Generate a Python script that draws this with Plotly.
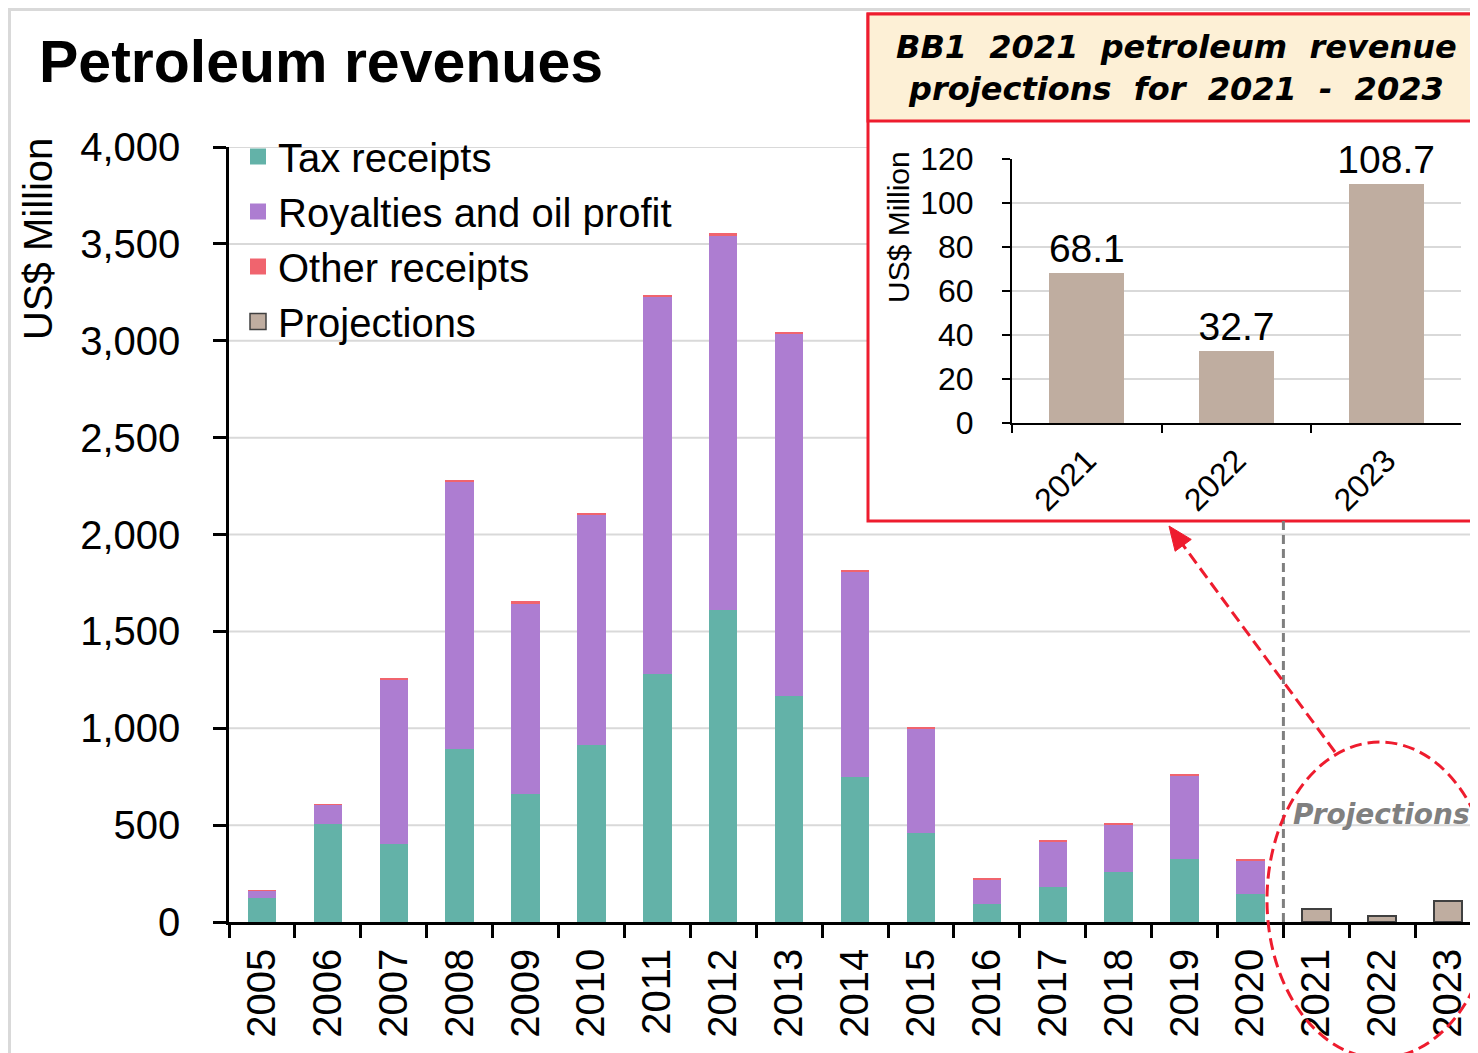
import plotly.graph_objects as go

# ---------------- data ----------------
years = ["2005", "2006", "2007", "2008", "2009", "2010", "2011", "2012", "2013",
         "2014", "2015", "2016", "2017", "2018", "2019", "2020"]
tax_receipts = [124, 504, 403, 891, 659, 912, 1281, 1610, 1166, 750, 459, 93, 180, 260, 327, 145]
royalties = [38, 100, 850, 1384, 983, 1193, 1949, 1933, 1870, 1060, 539, 127, 238, 244, 431, 170]
other_receipts = [2, 3, 3, 5, 15, 8, 8, 15, 8, 8, 5, 5, 5, 5, 1, 12]
proj_years = ["2021", "2022", "2023"]
projections = [68.1, 32.7, 108.7]
all_years = years + proj_years
main_ticks = [0, 500, 1000, 1500, 2000, 2500, 3000, 3500, 4000]
series_names = ["Tax receipts", "Royalties and oil profit", "Other receipts", "Projections"]

# ---------------- geometry helpers (screen pixel -> paper) ----------------
W, H = 1478, 1053
OFF = 8  # page body margin offsets the figure on screen
def px(x):
    return (x - OFF) / W
def py(y):
    return (H - (y - OFF)) / H

C_TAX = "#63b2a8"
C_ROY = "#ad7dd1"
C_OTH = "#f0646e"
C_PRJ = "#bfada0"
RED = "#ee1c2e"
FONT = "Liberation Sans, Arial, sans-serif"
colors = [C_TAX, C_ROY, C_OTH, C_PRJ]

fig = go.Figure()
fig.add_trace(go.Bar(x=years, y=tax_receipts, name=series_names[0], marker_color=C_TAX,
                     width=0.43, marker_line_width=0, showlegend=False))
fig.add_trace(go.Bar(x=years, y=royalties, name=series_names[1], marker_color=C_ROY,
                     width=0.43, marker_line_width=0, showlegend=False))
fig.add_trace(go.Bar(x=years, y=other_receipts, name=series_names[2], marker_color=C_OTH,
                     width=0.43, marker_line_width=0, showlegend=False))
fig.add_trace(go.Bar(x=proj_years, y=projections, name=series_names[3], marker_color=C_PRJ,
                     width=0.43, marker_line=dict(color="#404040", width=2), showlegend=False))

# legend entries (square keys)
for name, col in zip(series_names, colors):
    is_prj = name == "Projections"
    fig.add_trace(go.Scatter(x=[None], y=[None], mode="markers", name=name,
                             marker=dict(symbol="square", size=16, color=col,
                                         line=dict(color="#404040" if is_prj else col,
                                                   width=1.5 if is_prj else 0))))

# inset
fig.add_trace(go.Bar(x=proj_years, y=projections, xaxis="x2", yaxis="y2", showlegend=False,
                     marker_color=C_PRJ, marker_line_width=0, width=0.5,
                     texttemplate="%{y:.1f}", textposition="outside", constraintext="none",
                     cliponaxis=False, textfont=dict(size=39, color="black", family=FONT)))

# main gridlines (stop at inset box where it overlaps)
inset_left, inset_bottom = 868, 521
y0px, y4000px = 922, 147
shapes = []
for v in main_ticks[1:]:
    ypix = y0px - (y0px - y4000px) * v / 4000
    x1 = px(inset_left) if ypix < inset_bottom else 1.0
    shapes.append(dict(type="line", xref="paper", yref="y", x0=px(229), x1=x1, y0=v, y1=v,
                       line=dict(color="#d9d9d9", width=2), layer="below"))

# outer frame
shapes.append(dict(type="rect", xref="paper", yref="paper", x0=px(9.5), x1=1.02, y0=-0.02, y1=py(9.5),
                   line=dict(color="#d9d9d9", width=3), layer="below"))
# inset box + header
shapes.append(dict(type="rect", xref="paper", yref="paper", x0=px(868), x1=1.02, y0=py(521), y1=py(14),
                   line=dict(color=RED, width=3), fillcolor="rgba(0,0,0,0)", layer="below"))
shapes.append(dict(type="rect", xref="paper", yref="paper", x0=px(868), x1=1.02, y0=py(121), y1=py(14),
                   line=dict(color=RED, width=3), fillcolor="#fdf0d6", layer="below"))
# projection separator
shapes.append(dict(type="line", xref="x", yref="paper", x0=15.5, x1=15.5, y0=py(922), y1=py(521),
                   line=dict(color="#7f7f7f", width=3, dash="9px,5px")))
# ellipse
shapes.append(dict(type="circle", xref="paper", yref="paper", x0=px(1380 - 113), x1=px(1380 + 113),
                   y0=py(1058), y1=py(742), line=dict(color=RED, width=3, dash="12px,6px")))
# arrow
tip = (1169, 526)
tail = (1335, 752)
dx, dy = tip[0] - tail[0], tip[1] - tail[1]
L = (dx ** 2 + dy ** 2) ** 0.5
ux, uy = dx / L, dy / L
hl, hw = 24, 10
bx, by = tip[0] - ux * hl, tip[1] - uy * hl
shapes.append(dict(type="line", xref="paper", yref="paper", x0=px(tail[0]), y0=py(tail[1]),
                   x1=px(bx + ux * 4), y1=py(by + uy * 4), line=dict(color=RED, width=3, dash="12px,6px")))
p1 = (bx - uy * hw, by + ux * hw)
p2 = (bx + uy * hw, by - ux * hw)
path = "M {} {} L {} {} L {} {} Z".format(px(tip[0]), py(tip[1]), px(p1[0]), py(p1[1]), px(p2[0]), py(p2[1]))
shapes.append(dict(type="path", xref="paper", yref="paper", path=path, fillcolor=RED,
                   line=dict(color=RED, width=1)))

annotations = [
    dict(text="<b>Petroleum revenues</b>", xref="paper", yref="paper", x=px(37), y=py(62),
         xanchor="left", yanchor="middle", showarrow=False, font=dict(size=59, color="black", family=FONT)),
    dict(text="US$ Million", xref="paper", yref="paper", x=px(38), y=py(239), textangle=-90,
         xanchor="center", yanchor="middle", showarrow=False, font=dict(size=40, color="black", family=FONT)),
    dict(text="<b><i>BB1  2021  petroleum  revenue<br>projections  for  2021  -  2023</i></b>",
         xref="paper", yref="paper", x=px(1176), y=py(68), xanchor="center", yanchor="middle",
         showarrow=False, font=dict(size=32, color="black", family="DejaVu Sans")),
    dict(text="US$ Million", xref="paper", yref="paper", x=px(898), y=py(227), textangle=-90,
         xanchor="center", yanchor="middle", showarrow=False, font=dict(size=30, color="black", family=FONT)),
    dict(text="<b><i>Projections</i></b>", xref="paper", yref="paper", x=px(1291), y=py(814),
         xanchor="left", yanchor="middle", showarrow=False, font=dict(size=28, color="#808080", family="DejaVu Sans")),
]

plot_len = W - (229 - OFF)          # pixel length of main x axis
cat_w = 65.9                        # pixel width of one category
x_end = -0.5 + plot_len / cat_w

fig.update_layout(
    width=W, height=H, margin=dict(l=0, r=0, t=0, b=0, autoexpand=False),
    paper_bgcolor="white", plot_bgcolor="rgba(0,0,0,0)",
    barmode="stack",
    font=dict(family=FONT, color="black"),
    showlegend=True,
    legend=dict(x=px(238), y=py(124), xanchor="left", yanchor="top", traceorder="normal",
                font=dict(size=40, family=FONT, color="black"), bgcolor="rgba(0,0,0,0)",
                tracegroupgap=0, itemwidth=30),
    xaxis=dict(domain=[px(229), 1.0], type="category", categoryorder="array", categoryarray=all_years,
               range=[-0.5, x_end], tickangle=-90, tickfont=dict(size=40), ticks="outside", ticklen=13,
               tickwidth=2.5, tickcolor="black", tickson="boundaries", showline=True, linecolor="black",
               linewidth=2.5, showgrid=False, ticklabelstandoff=8, automargin=False),
    yaxis=dict(domain=[py(922), py(147)], range=[0, 4000], tickvals=main_ticks, tickformat=",",
               tickfont=dict(size=40), ticks="outside", ticklen=13, tickwidth=2.5, tickcolor="black",
               showline=True, linecolor="black", linewidth=2.5, showgrid=False, zeroline=False,
               ticklabelstandoff=25, automargin=False),
    xaxis2=dict(domain=[px(1012), px(1461)], anchor="y2", type="category", tickangle=-45,
                tickfont=dict(size=32), ticks="outside", ticklen=8, tickwidth=2, tickcolor="black",
                tickson="boundaries", showline=True, linecolor="black", linewidth=2, showgrid=False,
                ticklabelstandoff=4, automargin=False),
    yaxis2=dict(domain=[py(423), py(159)], anchor="x2", range=[0, 120], dtick=20,
                tickfont=dict(size=32), ticks="outside", ticklen=8, tickwidth=2, tickcolor="black",
                showline=True, linecolor="black", linewidth=2, showgrid=True, gridcolor="#d9d9d9",
                gridwidth=2, zeroline=False, ticklabelstandoff=22, automargin=False),
    shapes=shapes,
    annotations=annotations,
)

fig.write_html("out.html")
